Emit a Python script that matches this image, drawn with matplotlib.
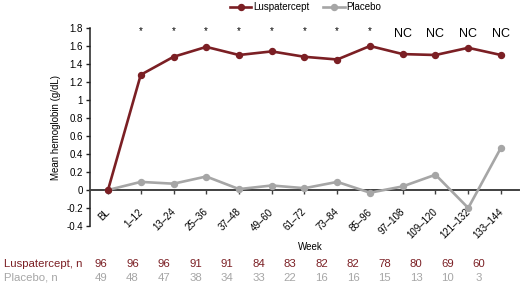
import matplotlib
matplotlib.use('Agg')
import matplotlib.pyplot as plt
import matplotlib.transforms as mtrans
import numpy as np

plt.rcParams['font.family'] = ['Liberation Sans', 'DejaVu Sans']
plt.rcParams['axes.unicode_minus'] = False

weeks = ['BL', '1–12', '13–24', '25–36', '37–48', '49–60', '61–72', '73–84',
         '85–96', '97–108', '109–120', '121–132', '133–144']
lusp = [0, 1.28, 1.48, 1.59, 1.50, 1.54, 1.48, 1.45, 1.60, 1.51, 1.50, 1.58, 1.50]
placebo = [0, 0.09, 0.07, 0.15, 0.01, 0.05, 0.02, 0.09, -0.03, 0.04, 0.17, -0.20, 0.47]
marks = ['', '*', '*', '*', '*', '*', '*', '*', '*', 'NC', 'NC', 'NC', 'NC']
n_lusp = [96, 96, 96, 91, 91, 84, 83, 82, 82, 78, 80, 69, 60]
n_plac = [49, 48, 47, 38, 34, 33, 22, 16, 16, 15, 13, 10, 3]

red = '#7b1f24'
grey = '#a6a6a6'

fig = plt.figure(figsize=(5.2, 2.88), dpi=100)
ax = fig.add_axes([90/520, 1-226/288, 429/520, 198/288])

# spine moved first, set_position resets the ticks
for s in ['top', 'right']:
    ax.spines[s].set_visible(False)
ax.spines['bottom'].set_position(('data', 0))
ax.spines['bottom'].set_color('#404040')
ax.spines['bottom'].set_linewidth(1.4)
ax.spines['left'].set_linewidth(1.1)
ax.spines['left'].set_color('#202020')

x = np.arange(len(weeks))
ax.plot(x, placebo, color=grey, lw=1.9, marker='o', ms=4.3, label='Placebo', zorder=3)
ax.plot(x, lusp, color=red, lw=1.9, marker='o', ms=4.3, label='Luspatercept', zorder=4)

for i, m in enumerate(marks):
    if m == '*':
        ax.text(x[i], 1.765, m, ha='center', va='center', fontsize=7)
    elif m:
        ax.text(x[i], 1.73, m, ha='center', va='center', fontsize=9)

ax.set_xlim(-0.55, 12.55)
ax.set_ylim(-0.4, 1.8)
yt = np.arange(-0.4, 1.81, 0.2)
ax.set_yticks(yt)
ax.set_yticklabels(['{:g}'.format(round(v, 1)) for v in yt], fontsize=7)
ax.set_xticks(x)
ax.set_xticklabels(weeks, rotation=45, ha='right', fontsize=7)
ax.tick_params(axis='x', direction='out', length=3, pad=9, color='#404040', width=1)
ax.tick_params(axis='y', direction='out', length=3, pad=2, color='#202020', width=1)
shift = mtrans.ScaledTranslation(4/100, 0, fig.dpi_scale_trans)
for lab in ax.get_xticklabels():
    lab.set_transform(lab.get_transform() + shift)

ax.set_ylabel('Mean hemoglobin (g/dL)', fontsize=7, labelpad=4)

h, l = ax.get_legend_handles_labels()
ax.legend(h[::-1], l[::-1], ncol=2, loc='center', bbox_to_anchor=(0.503, 1 + 21/198),
          frameon=False, fontsize=7, handlelength=2.2, handletextpad=0.2,
          columnspacing=1.4, borderpad=0)

fig.text(310/520, 1-247/288, 'Week', ha='center', va='center', fontsize=7)
fig.text(4/520, 1-264/288, 'Luspatercept, n', ha='left', va='center', fontsize=8.2, color=red)
fig.text(4/520, 1-278/288, 'Placebo, n', ha='left', va='center', fontsize=8.2, color=grey)
for i in range(len(weeks)):
    px = (101 + i*31.5)/520
    fig.text(px, 1-264/288, str(n_lusp[i]), ha='center', va='center', fontsize=8.2, color=red)
    fig.text(px, 1-278/288, str(n_plac[i]), ha='center', va='center', fontsize=8.2, color=grey)

fig.savefig('out.png', dpi=100)
